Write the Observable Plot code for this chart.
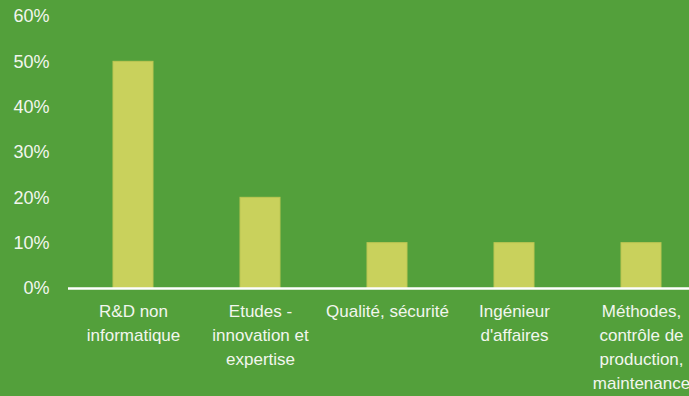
<!DOCTYPE html>
<html><head><meta charset="utf-8">
<script src="https://cdn.jsdelivr.net/npm/d3@7"></script>
<script src="https://cdn.jsdelivr.net/npm/@observablehq/plot@0.6"></script>
<style>
html,body{margin:0;padding:0;background:#53a03b;overflow:hidden}
#chart svg{display:block;background:#53a03b}
</style></head>
<body><div id="chart"></div>
<script>
const categories = ["R&D non\ninformatique", "Etudes -\ninnovation et\nexpertise", "Qualité, sécurité", "Ingénieur\nd'affaires", "Méthodes,\ncontrôle de\nproduction,\nmaintenance"];
const values = [0.50, 0.20, 0.10, 0.10, 0.10];
const yTicks = [0, 0.1, 0.2, 0.3, 0.4, 0.5, 0.6];
const data = categories.map((c, i) => ({cat: c, v: values[i]}));
const font = "'Liberation Sans Narrow', 'Arial Narrow', 'Liberation Sans', sans-serif";
const chart = Plot.plot({
  width: 689, height: 396,
  marginLeft: 68, marginTop: 16, marginBottom: 108, marginRight: 0,
  style: {background: "#53a03b", color: "#ffffff", fontFamily: font, fontSize: "17px"},
  x: {domain: categories, range: [68, 706], paddingInner: 0.686, paddingOuter: 0.343, label: null},
  y: {domain: [0, 0.6], label: null},
  marks: [
    Plot.barY(data, {x: "cat", y: "v", fill: "#c9d15c", stroke: "#bcc653", strokeWidth: 1}),
    Plot.ruleY([0], {stroke: "#ffffff", strokeWidth: 2.5}),
    Plot.axisY({ticks: yTicks, tickFormat: d => Math.round(d*100) + "%", tickSize: 0, tickPadding: 19, fill: "#f2f6ee", fontSize: 18, label: null}),
    Plot.axisX({tickSize: 0, tickPadding: 12, fill: "#f2f6ee", fontSize: 17, lineHeight: 1.4, label: null})
  ]
});
document.getElementById("chart").appendChild(chart);
</script></body></html>
